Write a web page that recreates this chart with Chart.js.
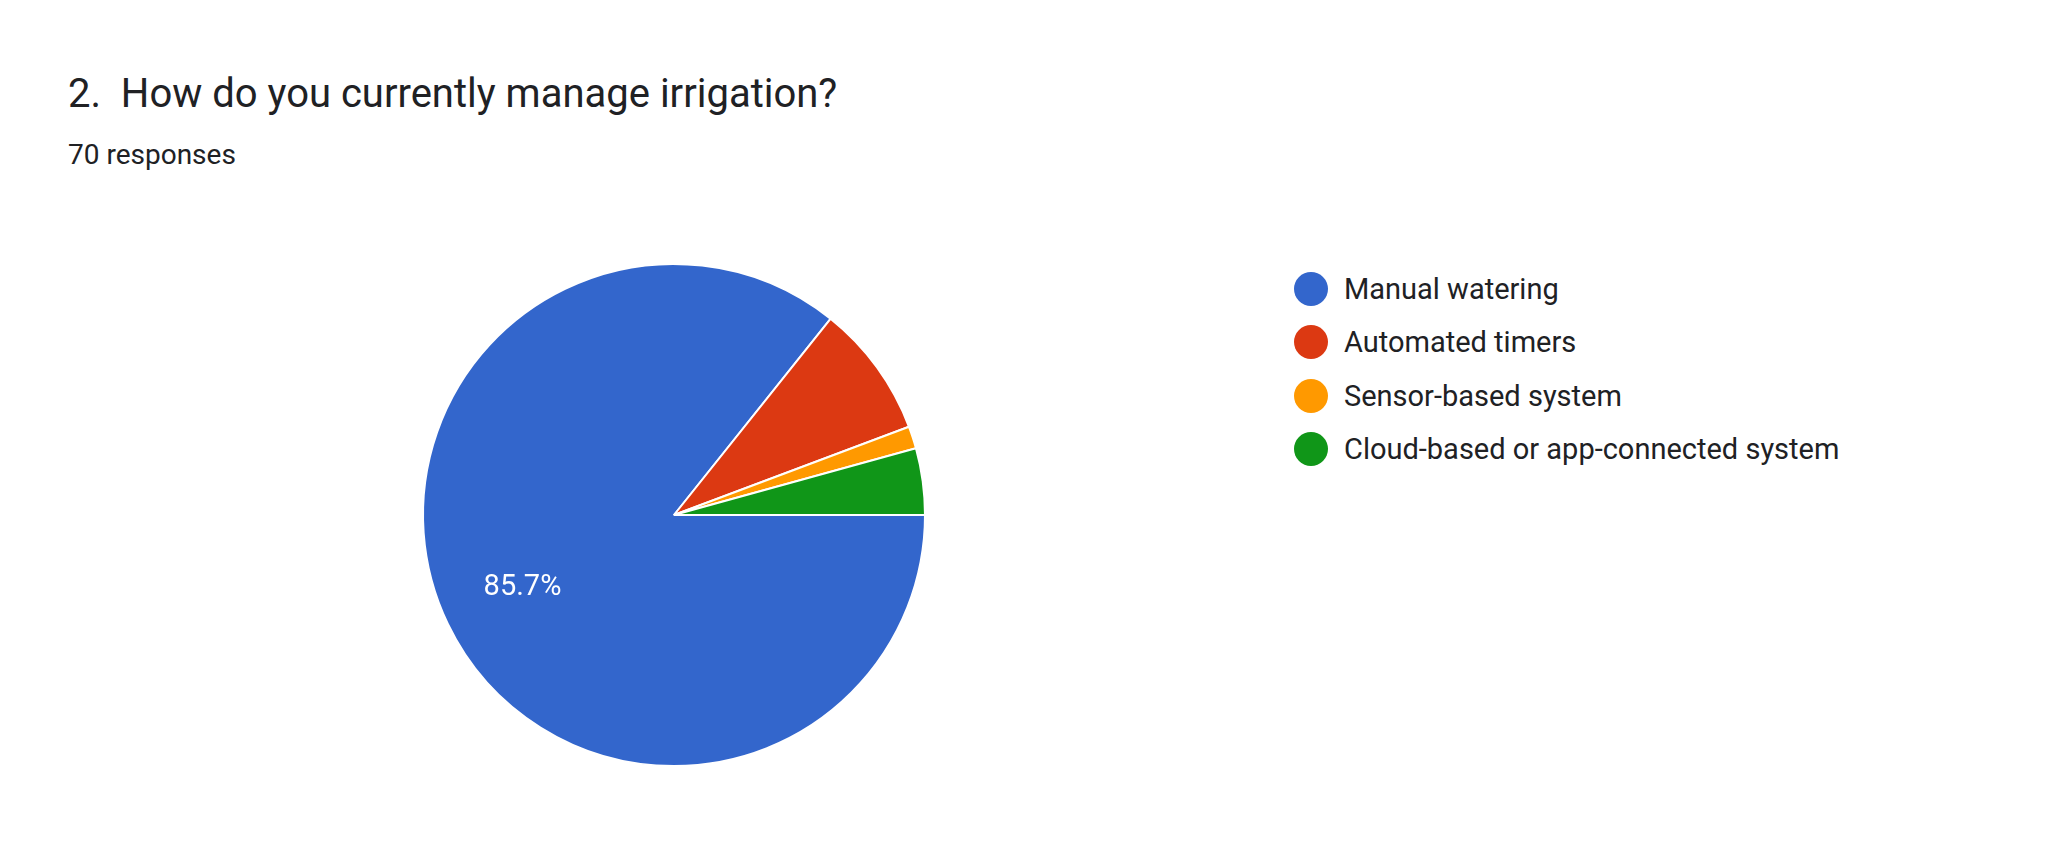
<!DOCTYPE html>
<html><head><meta charset="utf-8">
<script src="https://cdn.jsdelivr.net/npm/chart.js@4/dist/chart.umd.min.js"></script>
<style>
body{margin:0;width:2048px;height:862px;background:#fff;font-family:Roboto,Arial,sans-serif;position:relative;overflow:hidden}
#t{position:absolute;left:68px;top:70px;font-size:40px;color:#202124}
#s{position:absolute;left:68px;top:138px;font-size:28px;color:#202124}
#c{position:absolute;left:414px;top:255px;width:520px;height:520px}
#lg{position:absolute;left:1294px;top:262px}
.it{display:flex;align-items:center;height:53.5px;font-size:29px;color:#202124}
.dot{width:34px;height:34px;border-radius:50%;margin-right:16px}
</style></head><body>
<div id="t">2.&nbsp; How do you currently manage irrigation?</div>
<div id="s">70 responses</div>
<canvas id="c" width="520" height="520"></canvas>
<div id="lg"></div>
<script>
const categories=["Manual watering","Automated timers","Sensor-based system","Cloud-based or app-connected system"];
const counts=[60,6,1,3];
const colors=["#3366cc","#dc3912","#ff9900","#109618"];
const lg=document.getElementById('lg');
categories.forEach((c,i)=>{lg.innerHTML+=`<div class="it"><div class="dot" style="background:${colors[i]}"></div>${c}</div>`;});
const total=counts.reduce((a,b)=>a+b,0);
const lbl={id:'lbl',afterDatasetsDraw(ch){const ctx=ch.ctx;ch.getDatasetMeta(0).data.forEach((a,i)=>{const p=counts[i]/total;if(p<0.1)return;const m=(a.startAngle+a.endAngle)/2,r=a.outerRadius*0.67;ctx.save();ctx.fillStyle='#fff';ctx.font='29px Roboto';ctx.textAlign='center';ctx.textBaseline='middle';ctx.fillText((p*100).toFixed(1)+'%',a.x+Math.cos(m)*r,a.y+Math.sin(m)*r);ctx.restore();});}};
new Chart(document.getElementById('c'),{type:'pie',data:{labels:categories,datasets:[{data:counts,backgroundColor:colors,borderColor:'#fff',borderWidth:2,radius:251}]},
options:{responsive:false,animation:false,rotation:90,plugins:{legend:{display:false},tooltip:{enabled:false}}},plugins:[lbl]});
</script></body></html>
